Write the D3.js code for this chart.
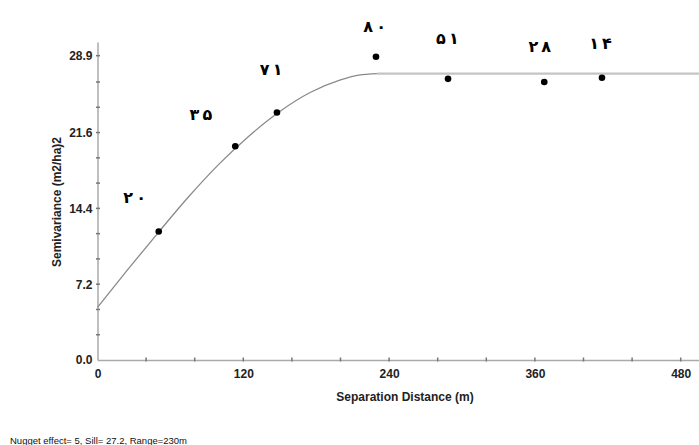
<!DOCTYPE html>
<html>
<head>
<meta charset="utf-8">
<script src="https://cdn.jsdelivr.net/npm/d3@7"></script>
<style>
  body { margin: 0; background: #fff; }
  svg { display: block; }
  .tick text { font-family: Arial, "Liberation Sans", sans-serif; font-weight: bold; font-size: 12px; fill: #222; }
</style>
</head>
<body>
<div id="chart"></div>
<script>
// observed semivariance points (lag distance, semivariance)
var lagDist = [50.4, 113.4, 147.7, 229.2, 288.5, 367.7, 415.2];
var semivar = [12.2, 20.3, 23.5, 28.8, 26.7, 26.4, 26.8];
// number of pairs per lag, as printed above each point
var pairLabels = ["۲۰", "۳۵", "۷۱", "۸۰", "۵۱", "۲۸", "۱۴"];
// label position (value space)
var labelX = [30.5, 85, 143, 228, 288, 364, 414];
var labelY = [15.3, 23.2, 27.5, 31.6, 30.4, 29.7, 30.0];

// fitted model curve
var curveX = [0, 25, 50, 75, 100, 125, 150, 175, 200, 215, 230, 495];
var curveY = [5.0, 8.6, 12.1, 15.5, 18.6, 21.3, 23.6, 25.4, 26.6, 27.05, 27.2, 27.2];

var xTicks = [0, 120, 240, 360, 480];
var xMinor = [40, 80, 160, 200, 280, 320, 400, 440];
var yTicks = [0, 7.2, 14.4, 21.6, 28.9];
var yTickLabels = ["0.0", "7.2", "14.4", "21.6", "28.9"];
var yMinor = [2.4, 4.8, 9.6, 12.0, 16.8, 19.2, 24.0, 26.4];

var width = 699, height = 445;
var margin = {top: 42, right: 0, bottom: 85, left: 97.5};

var svg = d3.select("#chart").append("svg")
    .attr("width", width)
    .attr("height", height);

var x = d3.scaleLinear().domain([0, 495]).range([margin.left, margin.left + 495 * 1.215]);
var y = d3.scaleLinear().domain([0, 30.2]).range([360, 360 - 30.2 * 10.53]);

// x axis
var gx = svg.append("g").attr("transform", "translate(0,360)");
gx.call(d3.axisBottom(x).tickValues(xTicks).tickSize(0).tickPadding(9).tickFormat(d3.format("d")));
gx.select(".domain").attr("stroke", "#aaa").attr("stroke-width", 1.5);
gx.selectAll(".minor").data(xTicks.concat(xMinor).filter(d => d > 0)).enter().append("line")
    .attr("class", "minor")
    .attr("x1", d => x(d)).attr("x2", d => x(d))
    .attr("y1", -2.5).attr("y2", 1.5)
    .attr("stroke", "#777").attr("stroke-width", 1.5);

// y axis
var gy = svg.append("g").attr("transform", "translate(" + margin.left + ",0)");
gy.call(d3.axisLeft(y).tickValues(yTicks).tickSize(0).tickPadding(5).tickFormat((d, i) => yTickLabels[i]));
gy.select(".domain").attr("stroke", "#aaa").attr("stroke-width", 1.5);
gy.selectAll(".minor").data(yTicks.concat(yMinor).filter(d => d > 0)).enter().append("line")
    .attr("class", "minor")
    .attr("x1", -1.5).attr("x2", 2.5)
    .attr("y1", d => y(d)).attr("y2", d => y(d))
    .attr("stroke", "#777").attr("stroke-width", 1.5);

// axis titles
svg.append("text")
    .attr("x", 405).attr("y", 401)
    .attr("text-anchor", "middle")
    .style("font-family", "Arial, 'Liberation Sans', sans-serif")
    .style("font-weight", "bold").style("font-size", "12px").attr("fill", "#222")
    .text("Separation Distance (m)");

svg.append("text")
    .attr("transform", "translate(61,202) rotate(-90)")
    .attr("text-anchor", "middle")
    .style("font-family", "Arial, 'Liberation Sans', sans-serif")
    .style("font-weight", "bold").style("font-size", "12px").attr("fill", "#222")
    .text("Semivariance (m2/ha)2");

// model curve
var curveData = curveX.map((d, i) => [d, curveY[i]]);
svg.append("path")
    .datum(curveData.slice(0, 11))
    .attr("fill", "none")
    .attr("stroke", "#8a8a8a")
    .attr("stroke-width", 1.3)
    .attr("d", d3.line().x(d => x(d[0])).y(d => y(d[1])).curve(d3.curveMonotoneX));
svg.append("path")
    .datum(curveData.slice(10))
    .attr("fill", "none")
    .attr("stroke", "#c4c4c4")
    .attr("stroke-width", 2.2)
    .attr("d", d3.line().x(d => x(d[0])).y(d => y(d[1])));

// points
svg.selectAll(".pt").data(lagDist).enter().append("circle")
    .attr("class", "pt")
    .attr("cx", d => x(d))
    .attr("cy", (d, i) => y(semivar[i]))
    .attr("r", 3.3)
    .attr("fill", "#000");

// pair counts - each digit drawn apart, the source has wide gaps between them
var lbl = svg.selectAll(".lbl").data(pairLabels).enter().append("g")
    .attr("class", "lbl")
    .attr("transform", (d, i) => "translate(" + x(labelX[i]) + "," + y(labelY[i]) + ")");
lbl.selectAll("text").data(d => Array.from(d)).enter().append("text")
    .attr("x", (c, j) => j === 0 ? -6.5 : 6.5)
    .attr("text-anchor", "middle")
    .attr("dominant-baseline", "middle")
    .style("font-family", "'DejaVu Sans', sans-serif")
    .style("font-weight", "bold").style("font-size", "16px")
    .attr("fill", "#000")
    .text(c => c);

// footnote
svg.append("text")
    .attr("x", 10).attr("y", 444)
    .style("font-family", "Arial, 'Liberation Sans', sans-serif")
    .style("font-size", "9.5px").attr("fill", "#111")
    .text("Nugget effect= 5, Sill= 27.2, Range=230m");
</script>
</body>
</html>
